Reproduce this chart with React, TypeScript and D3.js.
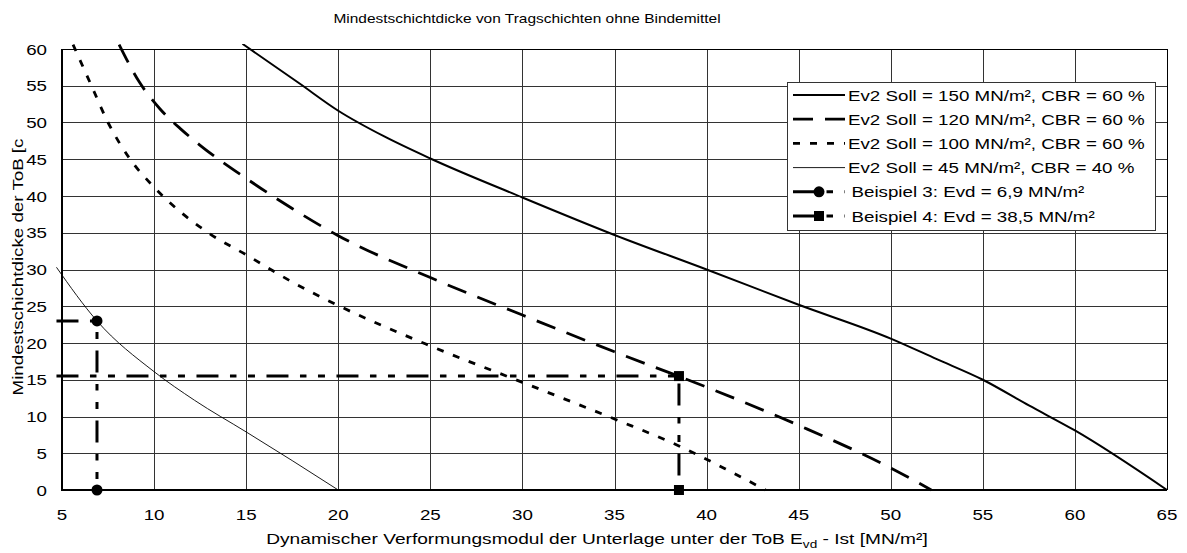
import React from "react";
import * as d3 from "d3";

const W = 1187;
const H = 553;

const title = "Mindestschichtdicke von Tragschichten ohne Bindemittel";
const yAxisTitle = "Mindestschichtdicke der ToB [c";
const xTicks = [5, 10, 15, 20, 25, 30, 35, 40, 45, 50, 55, 60, 65];
const yTicks = [0, 5, 10, 15, 20, 25, 30, 35, 40, 45, 50, 55, 60];

// Ev2 Soll = 150 MN/m², CBR = 60 %
const curve150: [number, number][] = [
  [14.8, 60.7], [17.9, 55.3], [20, 51.6], [22.5, 48.1], [25, 45.1], [30, 39.8],
  [35, 34.7], [40, 30.0], [45, 25.2], [50, 20.6], [52.5, 17.8], [55, 15.0],
  [57.5, 11.5], [60, 8.1], [65, 0],
];
// Ev2 Soll = 120 MN/m², CBR = 60 %
const curve120: [number, number][] = [
  [8.1, 60.6], [9.2, 55.5], [10.3, 51.9], [11.5, 49.0], [12.5, 46.9], [15, 42.4],
  [17.5, 38.3], [20, 34.6], [25, 28.9], [30, 23.8], [35, 18.8], [40, 14.0],
  [45, 8.8], [50, 3.0], [52.2, 0],
];
// Ev2 Soll = 100 MN/m², CBR = 60 %
const curve100: [number, number][] = [
  [5.6, 60.6], [6.6, 55], [7.5, 50], [8.7, 45], [10, 41.2], [13, 34.9],
  [15, 32.0], [17.5, 28.3], [20, 25.1], [25, 19.6], [30, 14.65], [35, 9.66],
  [38.5, 6.0], [41, 2.9], [43.2, 0],
];
// Ev2 Soll = 45 MN/m², CBR = 40 %
const curve45: [number, number][] = [
  [4.7, 30.3], [6.9, 23.0], [10, 16.1], [12.2, 12.2], [15, 7.9], [17.5, 4.0], [20, 0],
];
// Beispiel 3
const example3: [number, number][] = [[4.7, 23], [6.9, 23], [6.9, 0]];
// Beispiel 4
const example4: [number, number][] = [[4.7, 15.5], [38.5, 15.5], [38.5, 0]];

const legendLabels = [
  "Ev2 Soll = 150 MN/m², CBR = 60 %",
  "Ev2 Soll = 120 MN/m², CBR = 60 %",
  "Ev2 Soll = 100 MN/m², CBR = 60 %",
  "Ev2 Soll = 45 MN/m², CBR = 40 %",
  "Beispiel 3: Evd = 6,9 MN/m²",
  "Beispiel 4: Evd = 38,5 MN/m²",
];

const FONT = "'Liberation Sans', Arial, sans-serif";
const STRETCH = 1.21;

function SText(props: {
  x: number;
  y: number;
  size: number;
  anchor?: "start" | "middle" | "end";
  rotate?: number;
  sx?: number;
  children: React.ReactNode;
}) {
  const { x, y, size, anchor = "start", rotate = 0, sx = STRETCH, children } = props;
  return (
    <text
      transform={`translate(${x},${y}) rotate(${rotate}) scale(${sx},1)`}
      textAnchor={anchor}
      fontSize={size}
      fill="#000"
    >
      {children}
    </text>
  );
}

export default function App() {
  const x = d3.scaleLinear().domain([5, 65]).range([62, 1167]);
  const y = d3.scaleLinear().domain([0, 60]).range([490, 49]);

  const smooth = d3
    .line<[number, number]>()
    .x((d) => x(d[0]))
    .y((d) => y(d[1]))
    .curve(d3.curveMonotoneX);
  const straight = d3
    .line<[number, number]>()
    .x((d) => x(d[0]))
    .y((d) => y(d[1]));

  const dashDotDot = "22 11.5 6.5 11.5 7 11.5";

  const series = [
    { data: curve150, width: 2, dash: "none" },
    { data: curve120, width: 2.8, dash: "20 12" },
    { data: curve100, width: 2.8, dash: "7 10" },
    { data: curve45, width: 0.9, dash: "none" },
  ];

  const legendX = 787;
  const legendY = 82;
  const legendW = 368;
  const legendH = 148;
  const rowY = (i: number) => 95 + i * 24.2;

  const inDomain = (d: [number, number]) => d[0] >= 5 && d[0] <= 65;

  return (
    <svg
      width={W}
      height={H}
      style={{ position: "absolute", left: 0, top: 0, background: "#fff" }}
      fontFamily={FONT}
    >
      <defs>
        <clipPath id="plotclip">
          <rect x={x(5) - 6} y={y(60) - 5} width={x(65) - x(5) + 11} height={y(0) - y(60) + 10} />
        </clipPath>
      </defs>
      <rect width={W} height={H} fill="#fff" />
      <SText x={527} y={23} size={13} anchor="middle" sx={1.19}>
        {title}
      </SText>

      {/* grid */}
      {xTicks.map((t) => (
        <line
          key={"gx" + t}
          x1={Math.round(x(t)) + 0.5}
          x2={Math.round(x(t)) + 0.5}
          y1={y(60)}
          y2={y(0)}
          stroke={t === 65 ? "#000" : "#333"}
          strokeWidth={1}
        />
      ))}
      {yTicks.map((t) => (
        <line
          key={"gy" + t}
          x1={x(5)}
          x2={x(65)}
          y1={Math.round(y(t)) + 0.5}
          y2={Math.round(y(t)) + 0.5}
          stroke={t === 60 ? "#000" : "#333"}
          strokeWidth={1}
        />
      ))}

      {/* axes */}
      <line x1={x(5)} x2={x(5)} y1={y(60)} y2={y(0) + 1} stroke="#000" strokeWidth={2} />
      <line x1={x(5) - 1} x2={x(65)} y1={y(0)} y2={y(0)} stroke="#000" strokeWidth={2} />

      {/* tick labels */}
      {yTicks.map((t) => (
        <SText key={"ty" + t} x={47} y={y(t) + 5.5} size={15.5} anchor="end">
          {t}
        </SText>
      ))}
      {xTicks.map((t) => (
        <SText key={"tx" + t} x={x(t)} y={520} size={15.5} anchor="middle">
          {t}
        </SText>
      ))}

      {/* axis titles */}
      <SText x={597} y={544} size={15.5} anchor="middle" sx={1.235}>
        Dynamischer Verformungsmodul der Unterlage unter der ToB E
        <tspan fontSize={11} dy={4}>vd</tspan>
        <tspan dy={-4}> - Ist [MN/m²]</tspan>
      </SText>
      <SText x={23} y={267} size={15.5} anchor="middle" rotate={-90}>
        {yAxisTitle}
      </SText>

      {/* curves */}
      <g clipPath="url(#plotclip)" fill="none" stroke="#000">
        {series.map((s, i) => (
          <path
            key={"s" + i}
            d={smooth(s.data) || ""}
            strokeWidth={s.width}
            strokeDasharray={s.dash}
          />
        ))}
        <path d={straight(example3) || ""} strokeWidth={3} strokeDasharray={dashDotDot} />
        <path d={straight(example4) || ""} strokeWidth={3} strokeDasharray={dashDotDot} />
      </g>
      {example3.filter(inDomain).map((d, i) => (
        <circle key={"m3" + i} cx={x(d[0])} cy={y(d[1])} r={5.5} fill="#000" />
      ))}
      {example4.filter(inDomain).map((d, i) => (
        <rect key={"m4" + i} x={x(d[0]) - 5} y={y(d[1]) - 5} width={10} height={10} fill="#000" />
      ))}

      {/* legend */}
      <rect
        x={legendX + 0.5}
        y={legendY + 0.5}
        width={legendW}
        height={legendH}
        fill="#fff"
        stroke="#333"
        strokeWidth={1}
      />
      {legendLabels.map((lab, i) => {
        const cy = rowY(i);
        const x1 = 793;
        const x2 = 845;
        const mid = 819;
        let sample: React.ReactNode = null;
        if (i < 4) {
          const s = series[i];
          sample = (
            <line
              x1={x1}
              x2={x2}
              y1={cy}
              y2={cy}
              stroke="#000"
              strokeWidth={s.width}
              strokeDasharray={s.dash}
            />
          );
        } else {
          sample = (
            <g>
              <line x1={x1} x2={x2} y1={cy} y2={cy} stroke="#000" strokeWidth={3} strokeDasharray={dashDotDot} />
              {i === 4 ? (
                <circle cx={mid} cy={cy} r={5.5} fill="#000" />
              ) : (
                <rect x={mid - 5} y={cy - 5} width={10} height={10} fill="#000" />
              )}
            </g>
          );
        }
        return (
          <g key={"lg" + i}>
            {sample}
            <SText x={i < 4 ? 848 : 851.5} y={cy + 5.5} size={15.5}>
              {lab}
            </SText>
          </g>
        );
      })}
    </svg>
  );
}
